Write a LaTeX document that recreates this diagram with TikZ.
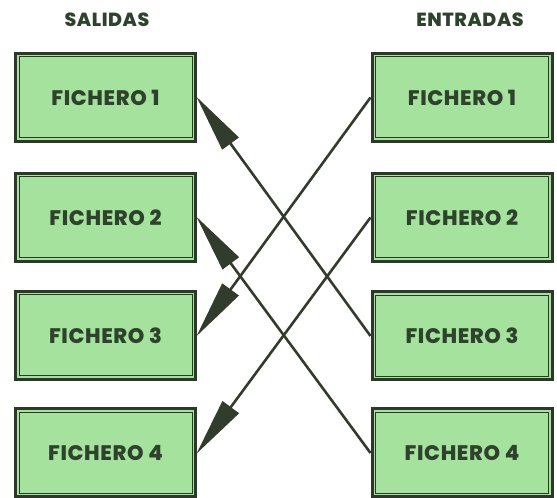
\documentclass[tikz,border=0pt]{standalone}
\usepackage{fontspec}
\setsansfont{Poppins}[BoldFont={Poppins ExtraBold}, LetterSpace=3]
\usetikzlibrary{arrows.meta}
\definecolor{boxfill}{RGB}{164,226,158}
\definecolor{boxline}{RGB}{44,56,40}
\definecolor{txt}{RGB}{46,66,44}
\definecolor{conncol}{RGB}{50,60,44}
\tikzset{
  filebox/.style={draw=boxline, line width=3pt, fill=boxfill,
    minimum width=180pt, minimum height=88pt, inner sep=0pt,
    text=txt, font=\sffamily\bfseries\fontsize{21}{24}\selectfont},
  innerline/.style={draw=boxline, line width=1pt},
  header/.style={text=txt, font=\sffamily\bfseries\fontsize{19}{22}\selectfont},
  conn/.style={draw=conncol, line width=2.6pt,
    -{Triangle[length=58pt,width=20pt]}, shorten >=-1pt},
}
\begin{document}
\begin{tikzpicture}[x=1pt,y=1pt]
\useasboundingbox (0,0) rectangle (557,498);
\node[header] (hs) at (107,478) {SALIDAS};
\node[header] (he) at (470,478) {ENTRADAS};
\node[filebox] (L1) at (105.5,400.5) {FICHERO 1};
\node[filebox] (L2) at (105.5,280.5) {FICHERO 2};
\node[filebox] (L3) at (105.5,162.5) {FICHERO 3};
\node[filebox] (L4) at (105.5,45) {FICHERO 4};
\node[filebox] (R1) at (462,400.5) {FICHERO 1};
\node[filebox] (R2) at (462,280.5) {FICHERO 2};
\node[filebox] (R3) at (462,162) {FICHERO 3};
\node[filebox] (R4) at (462,45) {FICHERO 4};
\foreach \n in {L1,L2,L3,L4,R1,R2,R3,R4}{
  \draw[innerline] ([shift={(5pt,5pt)}]\n.south west) rectangle ([shift={(-5pt,-5pt)}]\n.north east);
}
\draw[conn] (R3.west) -- (L1.east);
\draw[conn] (R4.west) -- (L2.east);
\draw[conn] (R1.west) -- (L3.east);
\draw[conn] (R2.west) -- (L4.east);
\end{tikzpicture}
\end{document}
